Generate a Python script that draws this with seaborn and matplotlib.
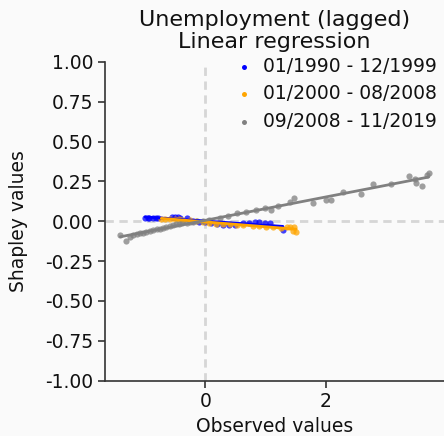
import matplotlib
matplotlib.use("Agg")
import matplotlib.pyplot as plt
import seaborn as sns
import pandas as pd

sns.set_theme(style="ticks")
plt.rcParams["font.family"] = ["DejaVu Sans"]

# Period labels and colours
periods = ["01/1990 - 12/1999", "01/2000 - 08/2008", "09/2008 - 11/2019"]
colors = ["blue", "orange", "gray"]

# 01/1990 - 12/1999
x_90s = [-1.00, -0.96, -0.93, -0.87, -0.82, -0.78, -0.55, -0.51, -0.46, -0.42, -0.31,
         -0.20, -0.10, 0.00, 0.10, 0.20, 0.30, 0.40, 0.50,
         0.63, 0.72, 0.82, 0.90, 0.99, 1.07, 1.29]
y_90s = [0.023, 0.023, 0.023, 0.023, 0.020, 0.018, 0.027, 0.027, 0.025, 0.023, 0.021,
         0.004, -0.002, -0.006, -0.013, -0.018, -0.022, -0.024, -0.026,
         -0.013, -0.012, -0.006, -0.006, -0.013, -0.013, -0.052]

# 01/2000 - 08/2008
x_00s = [-0.73, -0.67, -0.59, -0.51, -0.43, -0.37, -0.26, -0.15, -0.04, 0.07, 0.18,
         0.30, 0.41, 0.52, 0.63, 0.79, 0.90, 1.01, 1.12, 1.26, 1.35, 1.40, 1.45, 1.48, 1.51]
y_00s = [0.017, 0.016, 0.015, 0.013, 0.012, 0.011, 0.006, 0.002, -0.004, -0.011, -0.014,
         -0.019, -0.019, -0.021, -0.023, -0.027, -0.031, -0.036, -0.036, -0.040, -0.036,
         -0.036, -0.060, -0.036, -0.067]

# 09/2008 - 11/2019
x_10s = [-1.41, -1.32, -1.25, -1.20, -1.14, -1.09, -1.04, -0.98, -0.92, -0.87, -0.81,
         -0.76, -0.71, -0.65, -0.59, -0.54, -0.48, -0.43, -0.38, -0.31, -0.26, -0.21,
         -0.13, -0.04, 0.07, 0.24, 0.37, 0.52, 0.68, 0.85, 0.99, 1.10, 1.20, 1.40, 1.48,
         1.79, 2.01, 2.09, 2.28, 2.59, 2.79, 3.09, 3.39, 3.49, 3.50, 3.60, 3.69, 3.71]
y_10s = [-0.088, -0.125, -0.099, -0.088, -0.082, -0.075, -0.074, -0.069, -0.063, -0.057,
         -0.050, -0.048, -0.042, -0.036, -0.031, -0.025, -0.019, -0.017, -0.013, -0.011,
         -0.006, -0.004, 0.000, 0.002, 0.010, 0.019, 0.031, 0.050, 0.058, 0.069, 0.082,
         0.069, 0.094, 0.121, 0.145, 0.115, 0.132, 0.132, 0.184, 0.174, 0.233, 0.233,
         0.283, 0.268, 0.240, 0.222, 0.289, 0.303]

series = [(x_90s, y_90s), (x_00s, y_00s), (x_10s, y_10s)]

bg = "#fafafa"
fig = plt.figure(figsize=(4.44, 4.36), dpi=100, facecolor=bg)
ax = fig.add_axes([0.2365, 0.127, 0.7635, 0.731])
ax.set_facecolor(bg)

for (xs, ys), label, c in zip(series, periods, colors):
    df = pd.DataFrame({"observed": xs, "shap": ys})
    sns.regplot(data=df, x="observed", y="shap", ax=ax, ci=None, color=c,
                label=label,
                scatter_kws={"s": 20, "alpha": 0.75, "linewidths": 0},
                line_kws={"lw": 2})

ax.axhline(0, color="#d6d6d6", lw=2, dashes=(3, 2), zorder=0)
ax.axvline(0, color="#d6d6d6", lw=2, dashes=(3, 2), zorder=0)

ax.set_ylim(-1, 1)
ax.set_yticks([-1.0, -0.75, -0.5, -0.25, 0.0, 0.25, 0.5, 0.75, 1.0])
ax.set_yticklabels([f"{v:.2f}" for v in ax.get_yticks()])
ax.set_xticks([0, 2])
ax.tick_params(labelsize=13.5, length=5, width=1.2, color="#333333", labelcolor="#111111")
ax.set_xlabel("Observed values", fontsize=13.5, color="#111111", labelpad=4)
ax.set_ylabel("Shapley values", fontsize=13.5, color="#111111", labelpad=12)
ax.set_title("Unemployment (lagged)\nLinear regression", fontsize=16, pad=10,
             linespacing=1.1, color="#111111")
sns.despine(ax=ax)
for s in ("left", "bottom"):
    ax.spines[s].set_linewidth(1.2)
    ax.spines[s].set_color("#333333")

leg = ax.legend(loc="upper right", bbox_to_anchor=(1.0, 1.04), frameon=False,
                fontsize=13.5, handletextpad=0.0, borderaxespad=0.0,
                labelspacing=0.45, markerscale=0.8)
for h in leg.legend_handles:
    h.set_alpha(1)
for t in leg.get_texts():
    t.set_color("#111111")

fig.savefig("out.png", dpi=100, facecolor=bg)
